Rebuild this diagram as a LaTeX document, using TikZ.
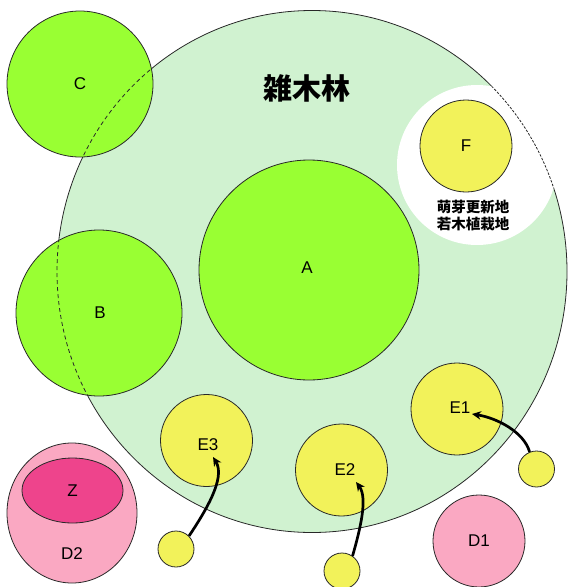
\documentclass[tikz,border=0pt]{standalone}
\usepackage{fontspec}
\setmainfont{Liberation Sans}
\newfontfamily\cjk{Noto Sans CJK JP}
\usetikzlibrary{arrows.meta,shapes.geometric}
\definecolor{bigfill}{RGB}{208,242,208}
\definecolor{leaf}{RGB}{153,255,51}
\definecolor{ylw}{RGB}{242,242,90}
\definecolor{pnk}{RGB}{250,168,194}
\definecolor{mag}{RGB}{238,68,140}
\definecolor{edge}{RGB}{40,40,40}
\begin{document}
\begin{tikzpicture}[x=1pt,y=-1pt,
  circ/.style={circle,draw=edge,line width=0.8pt,inner sep=0pt,font=\fontsize{17}{17}\selectfont},
  gcirc/.style={circ,fill=leaf},
  ycirc/.style={circ,fill=ylw},
  pcirc/.style={circ,fill=pnk},
  lbl/.style={inner sep=0pt,font=\fontsize{17}{17}\selectfont},
  bigdash/.style={draw=edge,line width=0.8pt,dash pattern=on 4pt off 3pt},
  finedash/.style={draw=edge,line width=0.8pt,dash pattern=on 2.5pt off 1.5pt},
  mv/.style={line width=2.7pt,-{Stealth[length=9pt,width=8.5pt]}}]
\useasboundingbox (0,0) rectangle (569,587);
% big woodland
\node[ellipse,draw=edge,fill=bigfill,line width=0.8pt,minimum width=510pt,minimum height=522pt,inner sep=0pt] (zoki) at (312,271.5) {};
% white clearing around F
\fill[white] (477,165) circle [radius=80];
\begin{scope}
  \clip (477,165) circle [radius=80];
  \path[finedash] (312,271.5) ellipse [x radius=255,y radius=261];
\end{scope}
% green circles
\node[gcirc,minimum size=146pt] (C) at (80,84) {C};
\node[gcirc,minimum size=166pt] (B) at (99,313) {};
\node[gcirc,minimum size=220pt] (A) at (309,270) {};
\begin{scope}
  \clip (80,84) circle [radius=72.6];
  \path[bigdash] (312,271.5) ellipse [x radius=255,y radius=261];
\end{scope}
\begin{scope}
  \clip (99,313) circle [radius=82.6];
  \path[bigdash] (312,271.5) ellipse [x radius=255,y radius=261];
\end{scope}
\node[lbl] (Bt) at (100,313) {B};
\node[lbl] (At) at (307,268) {A};
% F
\node[ycirc,minimum size=92pt] (F) at (466,146) {F};
\node[align=center,inner sep=0pt,font=\cjk\bfseries\fontsize{14.5}{17.5}\selectfont] (Ft) at (473,215.5) {萌芽更新地\\若木植栽地};
% title
\node[inner sep=0pt,font=\cjk\bfseries\fontsize{29}{29}\selectfont] (title) at (307,88) {雑木林};
% E circles
\node[ycirc,minimum size=92pt] (E1) at (457,409) {};
\node[ycirc,minimum size=92pt] (E2) at (341.5,470) {};
\node[ycirc,minimum size=92pt] (E3) at (206.5,440.5) {};
\node[lbl] (E1t) at (460,408) {E1};
\node[lbl] (E2t) at (345,470) {E2};
\node[lbl] (E3t) at (208,445) {E3};
% small seedlings
\node[ycirc,minimum size=36pt] (s1) at (536.5,469) {};
\node[ycirc,minimum size=36pt] (s2) at (342,571) {};
\node[ycirc,minimum size=36pt] (s3) at (176,549) {};
% D
\node[ellipse,draw=edge,fill=pnk,line width=0.8pt,minimum width=130pt,minimum height=140pt,inner sep=0pt] (D2) at (72,513) {};
\node[ellipse,draw=edge,fill=mag,line width=0.8pt,minimum width=101pt,minimum height=65pt,inner sep=0pt,font=\fontsize{17}{17}\selectfont] (Z) at (72.5,490.5) {Z};
\node[lbl] (D2t) at (72,554) {D2};
\node[pcirc,minimum size=92pt] (D1) at (479,541) {D1};
% arrows
\coordinate (e1tip) at (472,414);
\coordinate (e2tip) at (356,482);
\coordinate (e3tip) at (213,457);
\draw[mv] (s1.112) .. controls (524,432) and (497,418) .. (e1tip);
\draw[mv] (s2.55) .. controls (360,530) and (368,498) .. (e2tip);
\draw[mv] (s3.45) .. controls (205,512) and (226,478) .. (e3tip);
\end{tikzpicture}
\end{document}
